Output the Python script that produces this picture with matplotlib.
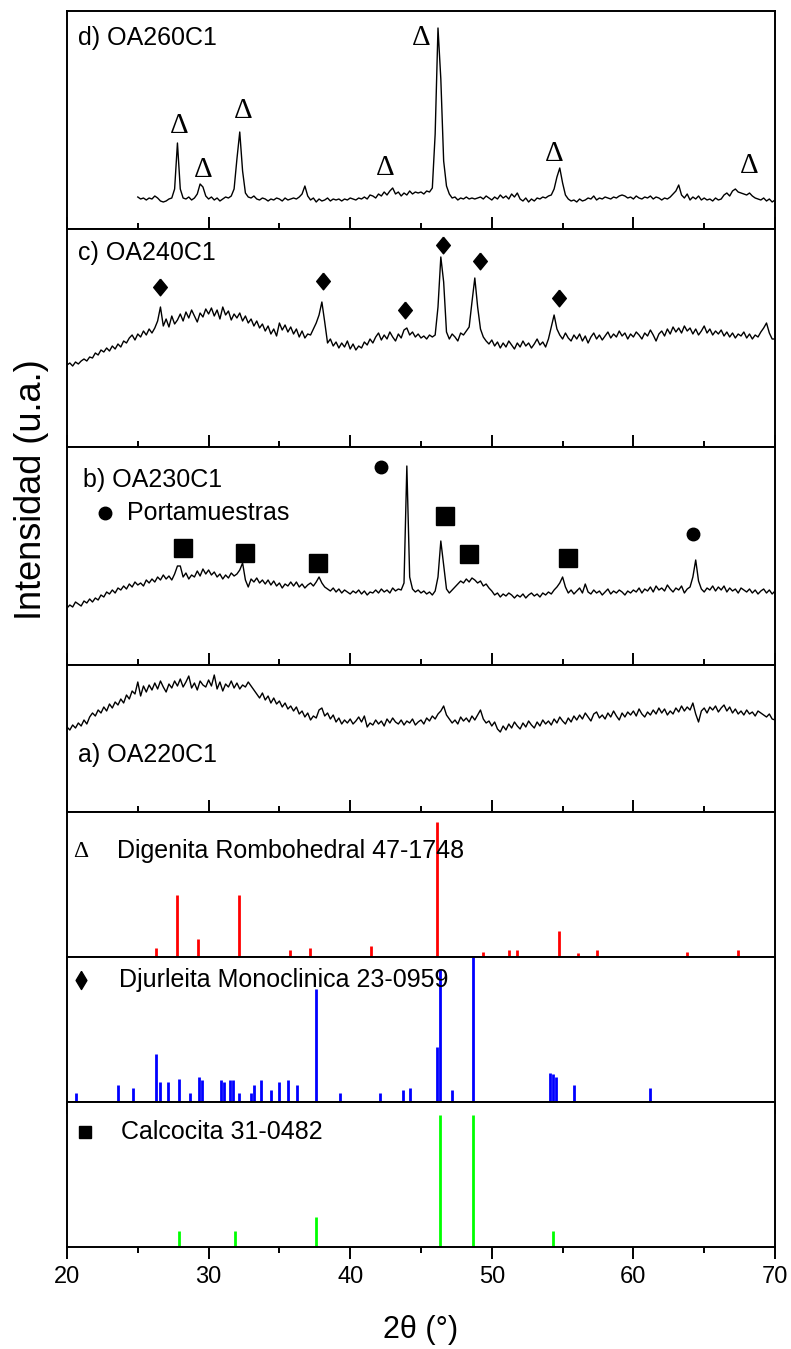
import numpy as np
import matplotlib
matplotlib.use("Agg")
import matplotlib.pyplot as plt
from matplotlib.ticker import MultipleLocator

plt.rcParams['font.family'] = ['Liberation Sans', 'DejaVu Sans']

# XRD patterns, step 0.2 deg (intensity in a.u.)
step = 0.2
start_d = 25.0
I_d = [32, 30, 31, 29, 31, 30, 33, 31, 28, 27,
       28, 30, 31, 40, 86, 40, 31, 30, 32, 29,
       31, 35, 45, 42, 33, 30, 32, 29, 31, 28,
       30, 32, 31, 33, 40, 70, 97, 58, 36, 32,
       31, 33, 30, 29, 31, 30, 28, 30, 29, 31,
       30, 28, 31, 29, 30, 31, 30, 32, 35, 43,
       33, 29, 31, 27, 30, 28, 29, 31, 28, 30,
       29, 30, 28, 30, 29, 31, 30, 29, 31, 30,
       32, 30, 34, 33, 31, 35, 33, 37, 34, 38,
       41, 35, 37, 33, 36, 34, 38, 35, 37, 36,
       37, 35, 38, 37, 41, 95, 201, 150, 68, 43,
       35, 31, 32, 29, 31, 30, 32, 30, 31, 30,
       31, 32, 30, 33, 31, 29, 32, 30, 34, 31,
       33, 30, 35, 32, 36, 30, 28, 31, 27, 30,
       28, 31, 30, 32, 31, 33, 34, 40, 52, 61,
       46, 34, 30, 28, 29, 27, 30, 28, 29, 31,
       30, 33, 29, 31, 30, 32, 31, 30, 32, 31,
       33, 34, 33, 31, 32, 30, 33, 31, 30, 32,
       31, 33, 30, 32, 31, 29, 31, 30, 32, 35,
       38, 44, 34, 31, 35, 29, 32, 30, 33, 29,
       31, 29, 30, 28, 31, 29, 30, 34, 36, 33,
       38, 40, 37, 36, 35, 34, 36, 33, 31, 30,
       29, 31, 28, 30, 27, 29]

start_c = 20.0
I_c = [82, 84, 81, 85, 83, 86, 88, 86, 90, 89,
       94, 92, 97, 95, 99, 96, 101, 98, 103, 100,
       106, 104, 109, 112, 107, 113, 110, 116, 112, 118,
       114, 119, 126, 140, 121, 128, 120, 131, 123, 127,
       133, 126, 135, 129, 137, 131, 125, 134, 130, 138,
       133, 139, 131, 137, 128, 140, 132, 136, 127, 133,
       129, 134, 126, 131, 124, 128, 121, 126, 119, 123,
       116, 121, 113, 118, 111, 124, 117, 122, 115, 120,
       113, 118, 110, 116, 109, 113, 112, 118, 124, 132,
       145, 125, 104, 108, 101, 105, 99, 104, 100, 106,
       98, 103, 97, 101, 99, 105, 102, 108, 104, 110,
       114, 107, 112, 108, 115, 110, 106, 113, 109, 117,
       119, 112, 115, 110, 113, 109, 111, 108, 112, 110,
       112, 140, 190, 165, 115, 108, 113, 110, 106, 114,
       112, 116, 120, 145, 169, 140, 118, 110, 106, 103,
       107, 101, 105, 99, 104, 100, 106, 102, 98, 104,
       100, 106, 101, 104, 99, 103, 108, 102, 105, 100,
       108, 120, 132, 118, 112, 108, 114, 109, 106, 112,
       108, 113, 106, 111, 104, 110, 114, 108, 112, 107,
       111, 115, 109, 113, 110, 116, 111, 114, 108, 113,
       110, 115, 112, 108, 114, 111, 117, 112, 106, 113,
       116, 111, 118, 113, 120, 115, 119, 114, 121, 116,
       119, 113, 118, 112, 116, 121, 114, 118, 112, 116,
       113, 117, 111, 115, 110, 114, 109, 113, 111, 115,
       109, 113, 108, 112, 110, 115, 119, 124, 114, 108,
       108]

start_b = 20.0
I_b = [57, 60, 58, 63, 61, 59, 64, 62, 66, 63,
       67, 65, 70, 68, 73, 71, 75, 72, 77, 75,
       79, 76, 81, 78, 83, 80, 82, 79, 85, 82,
       86, 83, 88, 85, 90, 86, 89, 85, 91, 99,
       99, 88, 92, 86, 90, 88, 94, 89, 96, 91,
       95, 90, 93, 88, 91, 86, 90, 87, 92, 89,
       91, 95, 102, 85, 78, 86, 83, 87, 82, 85,
       81, 85, 80, 84, 79, 82, 77, 81, 79, 83,
       79, 83, 78, 81, 77, 80, 82, 79, 83, 88,
       82, 78, 76, 74, 77, 73, 76, 72, 75, 73,
       71, 74, 72, 75, 71, 74, 70, 73, 72, 75,
       72, 76, 73, 75, 72, 77, 74, 76, 75, 82,
       199, 88, 76, 73, 75, 72, 74, 71, 73, 70,
       74, 88, 124, 100, 76, 72, 75, 78, 81, 84,
       82, 86, 83, 87, 85, 82, 84, 79, 81, 77,
       74, 70, 72, 68, 71, 69, 72, 70, 67, 70,
       68, 71, 67, 70, 72, 69, 71, 68, 72, 70,
       73, 71, 75, 78, 82, 88, 78, 72, 75, 71,
       74, 77, 72, 81, 73, 71, 75, 72, 74, 70,
       73, 76, 71, 74, 72, 75, 73, 70, 74, 72,
       75, 73, 77, 72, 76, 74, 78, 73, 79, 75,
       77, 74, 80, 76, 73, 77, 75, 79, 72, 76,
       78, 88, 105, 84, 76, 73, 77, 75, 79, 74,
       78, 75, 79, 73, 77, 74, 76, 72, 77, 75,
       73, 76, 72, 75, 71, 74, 76, 72, 75, 71,
       74]

start_a = 20.0
I_a = [85, 82, 87, 84, 89, 86, 92, 88, 95, 99,
       96, 102, 99, 105, 101, 108, 104, 110, 107, 113,
       109, 117, 113, 121, 118, 130, 116, 126, 120, 127,
       122, 129, 123, 131, 125, 120, 128, 124, 131, 126,
       133, 125, 130, 136, 124, 129, 122, 131, 127, 125,
       132, 126, 137, 123, 130, 121, 128, 125, 131, 124,
       129, 123, 127, 125, 130, 126, 122, 118, 114, 119,
       112, 116, 109, 114, 108, 111, 105, 109, 103, 106,
       101, 105, 98, 101, 95, 99, 92, 96, 94, 102,
       104, 96, 99, 93, 97, 90, 94, 88, 92, 89,
       93, 88, 91, 95, 90, 96, 85, 89, 87, 92,
       88, 91, 86, 93, 89, 94, 90, 88, 92, 87,
       91, 89, 93, 87, 90, 92, 88, 94, 91, 96,
       93, 98, 101, 106, 97, 93, 89, 92, 88, 95,
       91, 94, 90, 96, 92, 97, 102, 93, 89, 91,
       86, 90, 83, 80, 86, 82, 88, 84, 90, 86,
       83, 89, 85, 91, 87, 84, 90, 86, 92, 88,
       91, 87, 93, 89, 95, 91, 88, 94, 90, 96,
       92, 97, 93, 99, 95, 91, 98, 100, 94, 97,
       93, 99, 95, 101, 96, 92, 99, 95, 100, 97,
       101, 96, 103, 98, 95, 100, 97, 102, 98, 104,
       99, 103, 97, 101, 98, 104, 100, 106, 101, 105,
       102, 109, 98, 90, 101, 104, 99, 105, 102, 106,
       100, 104, 107, 101, 105, 99, 103, 98, 101, 97,
       102, 98, 100, 96, 101, 99, 97, 95, 98, 93,
       92]

# phase markers on the patterns (2theta, height)
delta_tt = [27.9, 29.6, 32.45, 42.5, 45.05, 54.4, 68.2]
delta_h = [103, 59, 118, 61, 191, 75, 63]
diam_tt = [26.55, 38.05, 43.9, 46.58, 49.17, 54.75]
diam_h = [160, 166, 137, 202, 186, 149]
sq_tt = [28.2, 32.6, 37.7, 46.7, 48.4, 55.4]
sq_h = [117, 112, 102, 149, 111, 107]
circ_tt = [42.2, 64.2]
circ_h = [198, 131]

# reference cards (relative intensity)
dig_tt = [26.26, 27.74, 29.22, 32.15, 35.74, 37.16, 41.47, 46.15, 49.38,
          51.19, 51.79, 54.75, 56.1, 57.42, 63.78, 67.37]
dig_I = [7, 46, 13, 46, 5, 7, 8, 100, 4, 5, 5, 19, 3, 5, 4, 5]
djur_tt = [20.66, 23.62, 24.68, 26.26, 26.59, 27.15, 27.94, 28.66, 29.35,
           29.52, 30.87, 31.1, 31.5, 31.73, 32.12, 33.01, 33.21, 33.7, 34.39,
           34.99, 35.58, 36.27, 37.59, 39.3, 42.1, 43.72, 44.21, 46.12, 46.32,
           47.17, 48.66, 54.09, 54.29, 54.55, 55.84, 61.2]
djur_I = [6, 12, 10, 33, 14, 14, 16, 6, 17, 15, 15, 14, 15, 15, 6, 6, 12,
          15, 8, 14, 15, 12, 78, 6, 6, 8, 10, 38, 92, 8, 100, 20, 19, 17, 12, 10]
calc_tt = [27.94, 31.83, 37.59, 46.32, 48.69, 54.29]
calc_I = [12, 12, 23, 100, 100, 12]

fig = plt.figure(figsize=(7.91, 13.49), dpi=100)
gs = fig.add_gridspec(7, 1, left=67/791, right=775/791, top=1-11/1349,
                      bottom=1-1247/1349, hspace=0,
                      height_ratios=[218, 218, 218, 147, 145, 145, 145])
axes = [fig.add_subplot(gs[i]) for i in range(7)]

for i, ax in enumerate(axes):
    ax.set_xlim(20, 70)
    ax.set_yticks([])
    ax.xaxis.set_major_locator(MultipleLocator(10))
    ax.xaxis.set_minor_locator(MultipleLocator(5))
    for s in ax.spines.values():
        s.set_linewidth(1.4)
    d = 'in' if i < 4 else 'out'
    ax.tick_params(axis='x', which='major', direction=d, length=8.5, width=1.4,
                   labelsize=17, pad=5)
    ax.tick_params(axis='x', which='minor', direction=d, length=4.5, width=1.4)
    if i < 6:
        ax.tick_params(axis='x', labelbottom=False)

patterns = [(start_d, I_d), (start_c, I_c), (start_b, I_b), (start_a, I_a)]
for ax, (t0, I) in zip(axes[:4], patterns):
    tt = t0 + step * np.arange(len(I))
    ax.plot(tt, I, color='black', lw=1.0)

axes[0].set_ylim(0, 218)
axes[1].set_ylim(0, 218)
axes[2].set_ylim(0, 218)
axes[3].set_ylim(0, 147)

labfs = 18
axes[0].text(20.78, 191, "d) OA260C1", fontsize=labfs, va='center')
axes[1].text(20.78, 194, "c) OA240C1", fontsize=labfs, va='center')
axes[2].text(21.13, 185, "b) OA230C1", fontsize=labfs, va='center')
axes[2].plot([22.68], [152], 'o', color='black', ms=9)
axes[2].text(24.24, 152, "Portamuestras", fontsize=labfs, va='center')
axes[3].text(20.78, 57, "a) OA220C1", fontsize=labfs, va='center')

for t, h in zip(delta_tt, delta_h):
    axes[0].text(t, h, "Δ", fontsize=21, family='Liberation Serif',
                 ha='center', va='center')
diamond = [(0, 1), (0.82, 0), (0, -1), (-0.82, 0), (0, 1)]
axes[1].plot(diam_tt, diam_h, ls='none', marker=diamond, color='black', ms=12)
axes[2].plot(sq_tt, sq_h, ls='none', marker='s', color='black', ms=13)
axes[2].plot(circ_tt, circ_h, ls='none', marker='o', color='black', ms=9)

# reference cards
axes[4].vlines(dig_tt, 0, dig_I, color='#ff0000', lw=2)
axes[4].set_ylim(0, 107.5)
axes[5].vlines(djur_tt, 0, djur_I, color='#0000ff', lw=2)
axes[5].set_ylim(0, 100)
axes[6].vlines(calc_tt, 0, calc_I, color='#00ff00', lw=2)
axes[6].set_ylim(0, 110)

tr = axes[4].get_xaxis_transform()
axes[4].text(21.0, 0.73, "Δ", fontsize=17, family='Liberation Serif',
             ha='center', va='center', transform=tr)
axes[4].text(23.56, 0.73, "Digenita Rombohedral 47-1748", fontsize=labfs,
             va='center', transform=tr)
tr = axes[5].get_xaxis_transform()
axes[5].plot([21.0], [0.84], ls='none', marker=[(0, 1), (0.6, 0), (0, -1), (-0.6, 0), (0, 1)],
             color='black', ms=13, transform=tr)
axes[5].text(23.66, 0.84, "Djurleita Monoclinica 23-0959", fontsize=labfs,
             va='center', transform=tr)
tr = axes[6].get_xaxis_transform()
axes[6].plot([21.25], [0.79], ls='none', marker='s', color='black', ms=9,
             transform=tr)
axes[6].text(23.8, 0.79, "Calcocita 31-0482", fontsize=labfs,
             va='center', transform=tr)

fig.text(421/791, 1-1330/1349, "2θ (°)", fontsize=22, ha='center', va='center')
fig.text(32/791, 1-490/1349, "Intensidad (u.a.)", fontsize=26, rotation=90,
         ha='center', va='center')

fig.savefig("out.png", dpi=100)
